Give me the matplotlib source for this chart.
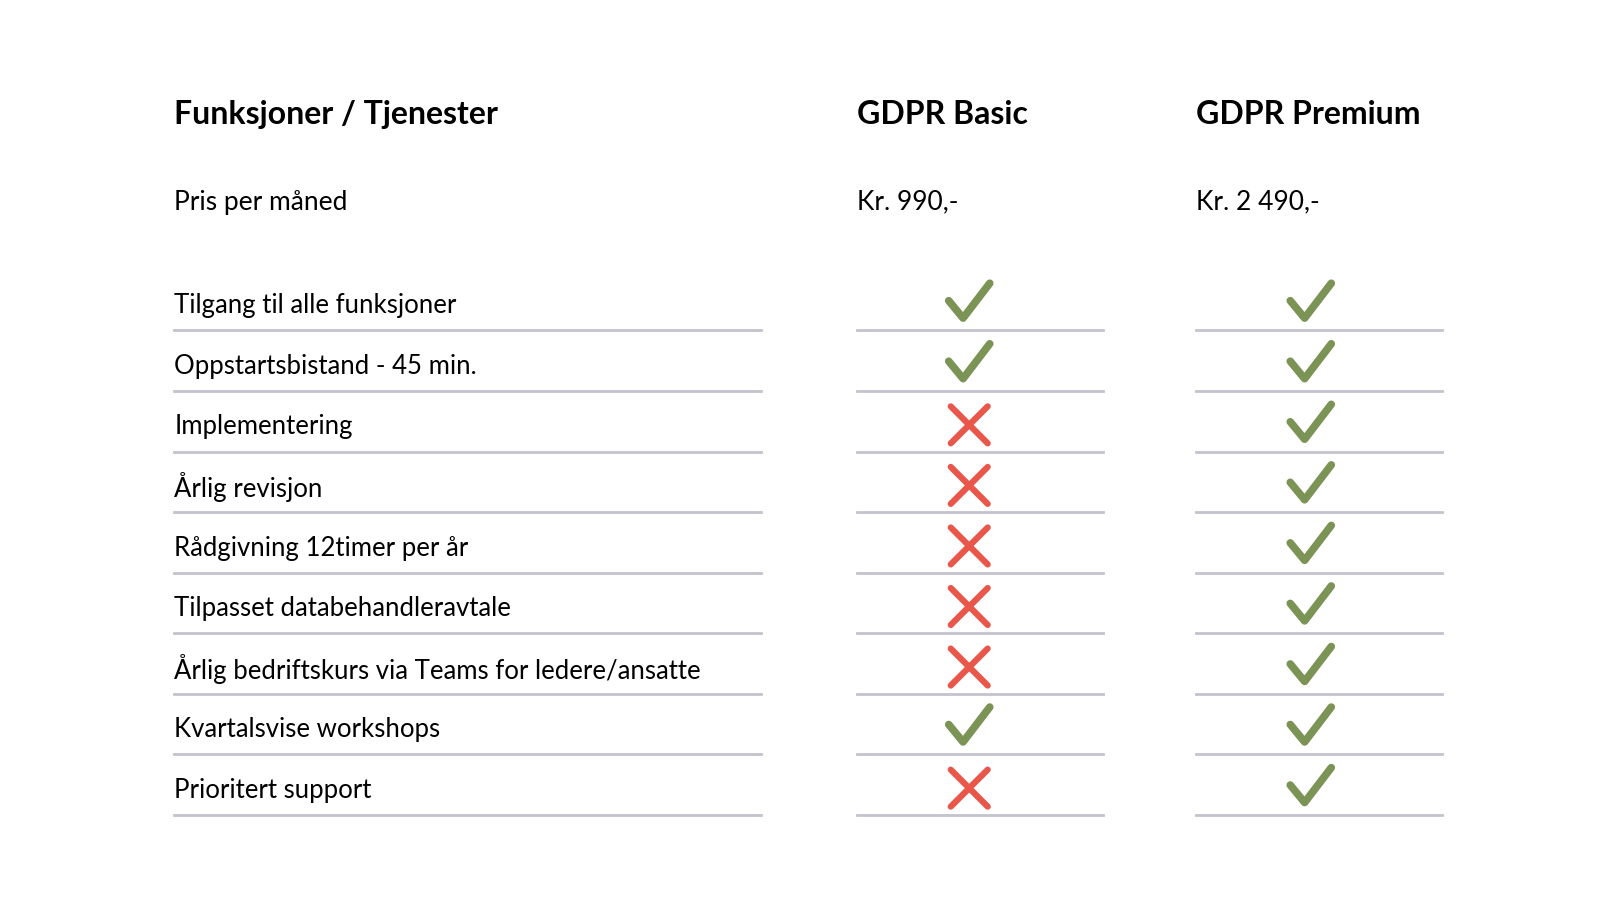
import matplotlib
matplotlib.use("Agg")
import matplotlib.pyplot as plt

headers = ["Funksjoner / Tjenester", "GDPR Basic", "GDPR Premium"]
price_label = "Pris per måned"
prices = ["Kr. 990,-", "Kr. 2 490,-"]
features = [
    "Tilgang til alle funksjoner",
    "Oppstartsbistand - 45 min.",
    "Implementering",
    "Årlig revisjon",
    "Rådgivning 12timer per år",
    "Tilpasset databehandleravtale",
    "Årlig bedriftskurs via Teams for ledere/ansatte",
    "Kvartalsvise workshops",
    "Prioritert support",
]
basic = [1, 1, 0, 0, 0, 0, 0, 1, 0]
premium = [1, 1, 1, 1, 1, 1, 1, 1, 1]

GREEN = "#7b9455"
RED = "#e8574a"
LINE = "#c4c2cc"

fig = plt.figure(figsize=(16, 9), dpi=100)
ax = fig.add_axes([0, 0, 1, 1])
# coordinates measured on a 1560x877 view of the reference
ax.set_xlim(0, 1560)
ax.set_ylim(877, 0)
ax.axis("off")

col_x = [170, 836, 1166]
col_span = [(170, 742), (836, 1075), (1166, 1406)]
mark_x = [945, 1278]

for x, h in zip(col_x, headers):
    ax.text(x, 112, h, fontsize=23, fontweight="bold", family="Lato", va="center", color="black")
ax.text(col_x[0], 197, price_label, fontsize=19, family="Lato", va="center")
for x, p in zip(col_x[1:], prices):
    ax.text(x, 197, p, fontsize=19, family="Lato", va="center")


def draw_check(cx, cy):
    ax.plot([cx - 20, cx - 6, cx + 20], [cy - 2, cy + 15, cy - 19], color=GREEN, lw=5.5,
            solid_capstyle="round", solid_joinstyle="round")


def draw_cross(cx, cy):
    s = 18
    ax.plot([cx - s, cx + s], [cy - s, cy + s], color=RED, lw=4.5, solid_capstyle="round")
    ax.plot([cx - s, cx + s], [cy + s, cy - s], color=RED, lw=4.5, solid_capstyle="round")


row_h = 59.0
for i, feat in enumerate(features):
    ty = 298 + i * row_h
    ly = 322 + i * row_h
    ax.text(col_x[0], ty, feat, fontsize=18.5, family="Lato", va="center")
    for (x0, x1) in col_span:
        ax.plot([x0, x1], [ly, ly], color=LINE, lw=2)
    for mx, val in zip(mark_x, (basic[i], premium[i])):
        if val:
            draw_check(mx, ty - 3)
        else:
            draw_cross(mx, ty - 2)

fig.savefig("out.png", dpi=100, facecolor="white")
